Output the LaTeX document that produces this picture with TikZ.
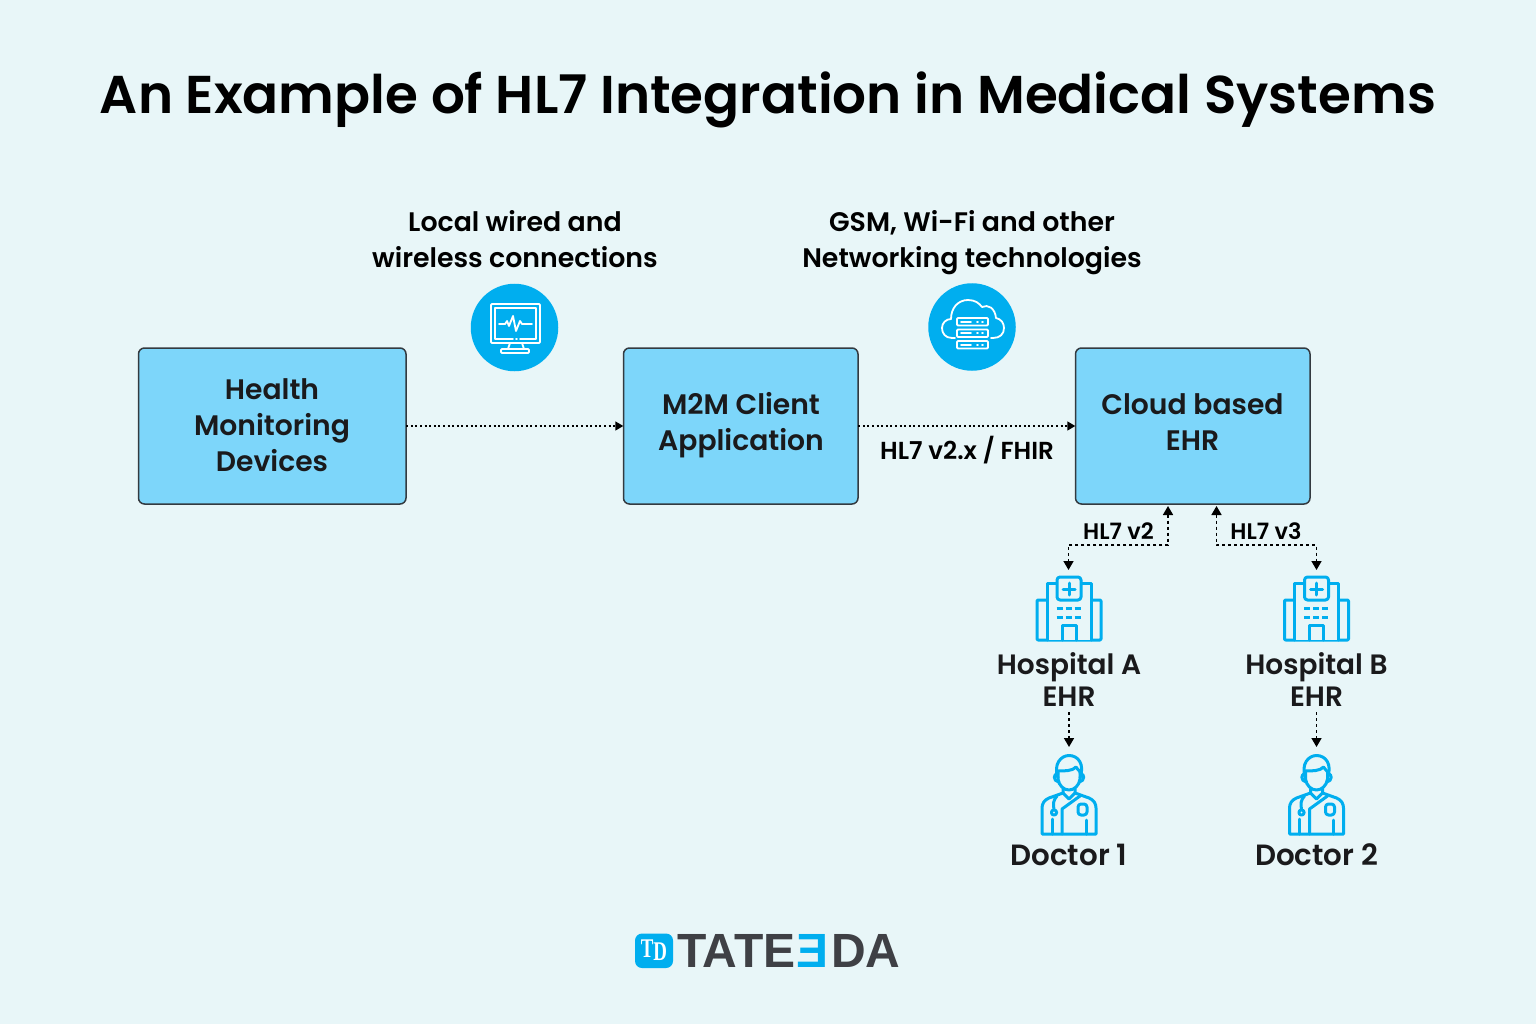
\documentclass[tikz,border=0pt]{standalone}
\usepackage{fontspec}
\setmainfont{Poppins SemiBold}
\newfontfamily\logofont{Liberation Sans Bold}
\newfontfamily\tdfont{Liberation Serif Bold}
\usetikzlibrary{arrows.meta}
\definecolor{bgc}{HTML}{E8F6F8}
\definecolor{boxc}{HTML}{7DD6FA}
\definecolor{edgec}{HTML}{333A40}
\definecolor{bluec}{HTML}{00AEEF}
\definecolor{inkc}{HTML}{1A1A1C}
\definecolor{logoc}{HTML}{3F4045}
\newcommand{\fsz}[1]{\fontsize{#1}{#1}\selectfont}
\tikzset{
  sysbox/.style={draw=edgec,line width=1.5pt,fill=boxc,rounded corners=6pt,inner sep=0pt},
  boxtxt/.style={text=inkc,align=center,font=\fsz{28.2}\setlength{\baselineskip}{36pt},inner sep=0pt},
  captxt/.style={text=black,align=center,font=\fsz{26.8}\setlength{\baselineskip}{36pt},inner sep=0pt},
  nametxt/.style={text=inkc,align=center,font=\fsz{28}\setlength{\baselineskip}{32pt},inner sep=0pt},
  doctxt/.style={text=inkc,font=\fsz{29.3},inner sep=0pt},
  linktxt/.style={text=black,font=\fsz{22.5},inner sep=0pt},
  widetxt/.style={text=black,font=\fsz{24.6},inner sep=0pt},
  flow/.style={draw=black,line width=1.4pt,dash pattern=on 2pt off 2.6pt,-{Triangle[length=8pt,width=9pt]}},
  flowboth/.style={draw=black,line width=1.6pt,dash pattern=on 3pt off 3pt,{Triangle[length=9pt,width=10pt]}-{Triangle[length=9pt,width=10pt]}},
  flowdown/.style={draw=black,line width=1.6pt,dash pattern=on 3pt off 3pt,-{Triangle[length=9pt,width=10pt]}},
  iconline/.style={draw=bluec,line width=3pt,line cap=round,line join=round,fill=none},
  whiteline/.style={draw=white,line width=1.8pt,line cap=round,line join=round,fill=none},
  badge/.style={circle,fill=bluec,minimum size=87.5pt,inner sep=0pt}
}
\newcommand{\hospitalicon}[1]{%
\begin{scope}[shift={(#1,0)}]
 \draw[iconline,rounded corners=1pt] (-32,600) rectangle (32,640);
 \draw[iconline,fill=bgc] (-22,640) -- (-22,583) -- (22,583) -- (22,640);
 \draw[iconline,fill=bgc,rounded corners=3pt] (-12,577) rectangle (12,600);
 \draw[iconline] (-6,589) -- (6,589) (0,583) -- (0,595);
 \draw[draw=bluec,line width=3pt,dash pattern=on 6pt off 3pt] (-12.5,608) -- (13,608) (-12.5,617) -- (13,617);
 \draw[iconline] (-7,640) -- (-7,625) -- (7,625) -- (7,640);
\end{scope}}
\newcommand{\doctoricon}[1]{%
\begin{scope}[shift={(#1,0)}]
 % hair and head
 \draw[iconline] (-11,778) .. controls (-16,764) and (-8,755.5) .. (0,755.5) .. controls (9,755.5) and (16,764) .. (11,778);
 \draw[iconline] (-11,771) .. controls (-5,771) and (4,771) .. (7,767) .. controls (9,770) and (11,771) .. (11,772);
 \draw[iconline] (-11,771) -- (-11,779) .. controls (-10,786) and (-5,790) .. (0,790) .. controls (5,790) and (10,786) .. (11,779) -- (11,772);
 \draw[iconline] (-11,774) .. controls (-16,773) and (-16,781) .. (-10.5,782);
 \draw[iconline] (11,774) .. controls (16,773) and (16,781) .. (10.5,782);
 % collar
 \draw[iconline] (-6,789) -- (-6,793) -- (0,799) -- (6,793) -- (6,789);
 % body
 \draw[iconline] (-6,793) -- (-20,798) .. controls (-25,800) and (-27,804) .. (-27,808) -- (-27,834) -- (27,834) -- (27,808) .. controls (27,804) and (25,800) .. (20,798) -- (6,793);
 % coat
 \draw[iconline] (-7,834) -- (-7,809) -- (11,796);
 \draw[iconline] (-17,834) -- (-17,819);
 \draw[iconline] (17,834) -- (17,820);
 % stethoscope
 \draw[iconline] (-12,796) .. controls (-16,800) and (-16,805) .. (-15,809);
 \draw[iconline] (-15,812.5) circle (2.6);
 \draw[iconline,rounded corners=3pt] (9,804) rectangle (18,815);
\end{scope}}
\begin{document}
\begin{tikzpicture}[x=1pt,y=-1pt]
\useasboundingbox (0,0) rectangle (1536,1024);
\fill[bgc] (0,0) rectangle (1536,1024);
\node[text=black,inner sep=0pt,font=\fsz{53.2}] (title) at (768,100) {An Example of HL7 Integration in Medical Systems};

\node[captxt] (cap1) at (515,239) {Local wired and\\wireless connections};
\node[captxt] (cap2) at (972,242.5) {GSM, Wi-Fi and other\\Networking technologies};

\node[badge] (mon) at (514.5,327.5) {};
\node[badge] (cld) at (972,327) {};

% monitor icon
\draw[whiteline,rounded corners=1pt] (491,304) rectangle (540,343);
\draw[whiteline] (495,339) -- (513,339) (516,339) -- (517,339) (520,339) -- (536,339) -- (536,308) -- (495,308) -- (495,339);
\draw[whiteline] (499,324) -- (505,324) -- (507,321) -- (509,326) -- (513,316) -- (516,331) -- (520,321) -- (522,324) -- (532,324);
\draw[whiteline] (510,343) -- (508,349) (522,343) -- (524,349);
\draw[whiteline,rounded corners=1pt] (501,349) rectangle (529,353);

% cloud icon
\draw[whiteline] (955,338) -- (952,338) .. controls (945,338) and (942,333) .. (942,328) .. controls (942,323) and (946,319) .. (951,319) .. controls (951,308) and (958,300) .. (968,300) .. controls (975,300) and (979,303) .. (982,307) .. controls (988,304) and (995,308) .. (996,318) .. controls (1001,319) and (1004,323) .. (1004,328) .. controls (1004,334) and (1000,338) .. (993,338) -- (991,338);
\foreach \yy in {318,329.5,341}{
  \draw[whiteline,rounded corners=1pt] (957,\yy) rectangle (988,\yy+7.5);
  \draw[whiteline] (961,\yy+3.75) -- (971,\yy+3.75);
  \draw[whiteline] (977,\yy+3.75) -- (978,\yy+3.75) (982,\yy+3.75) -- (983,\yy+3.75);
}

% boxes
\draw[sysbox] (138.5,348) rectangle (406,504);
\draw[sysbox] (623.5,348) rectangle (858,504);
\draw[sysbox] (1075.5,348) rectangle (1310,504);
\node[inner sep=0pt,minimum width=267.5pt,minimum height=156pt] (b1) at (272.25,426) {};
\node[inner sep=0pt,minimum width=234.5pt,minimum height=156pt] (b2) at (740.75,426) {};
\node[inner sep=0pt,minimum width=234.5pt,minimum height=156pt] (b3) at (1192.75,426) {};
\node[boxtxt] (t1) at (272,425) {Health\\Monitoring\\Devices};
\node[boxtxt] (t2) at (741,425) {M2M Client\\Application};
\node[boxtxt] (t3) at (1192.5,422) {Cloud based\\EHR};

\draw[flow] (b1.east) -- (b2.west);
\draw[flow] (b2.east) -- (b3.west);
\node[widetxt] (l0) at (967,450) {HL7 v2.x / FHIR};
\node[linktxt] (l1) at (1118.5,531) {HL7 v2};
\node[linktxt] (l2) at (1266,531) {HL7 v3};

% icons
\hospitalicon{1069}
\hospitalicon{1316.5}
\doctoricon{1069}
\doctoricon{1316.5}

\node[nametxt] (h1) at (1069,680) {Hospital A\\EHR};
\node[nametxt] (h2) at (1316.5,680) {Hospital B\\EHR};
\node[doctxt] (d1) at (1069,855) {Doctor 1};
\node[doctxt] (d2) at (1316.5,855) {Doctor 2};

\coordinate (hAtop) at (1068.5,570);
\coordinate (hBtop) at (1316.5,570);
\coordinate (upA) at (1168,506);
\coordinate (upB) at (1216.5,506);
\coordinate (jog) at (1192,545);
\coordinate (dAtop) at (1069,747);
\coordinate (dBtop) at (1316.5,747);
\draw[flowboth] (upA) -- (upA |- jog) -- (hAtop |- jog) -- (hAtop);
\draw[flowboth] (upB) -- (upB |- jog) -- (hBtop |- jog) -- (hBtop);
\draw[flowdown] ([yshift=-5pt]h1.south) -- (dAtop);
\draw[flowdown] ([yshift=-5pt]h2.south) -- (dBtop);

% logo
\fill[bluec,rounded corners=7pt] (635,933.5) rectangle (673,968);
\node[text=white,inner sep=0pt,font=\tdfont\fsz{27}] (ltd) at (654,950) {\scalebox{0.7}[1]{T\raisebox{-3pt}{D}}};
\node[text=logoc,anchor=west,inner sep=0pt,font=\logofont\fsz{48}] (lg1) at (677,951) {TATE};
\node[text=bluec,anchor=west,inner sep=0pt,font=\logofont\fsz{48}] (lg2) at (796,951) {\symbol{"018E}};
\node[text=logoc,anchor=west,inner sep=0pt,font=\logofont\fsz{48}] (lg3) at (831,951) {DA};
\end{tikzpicture}
\end{document}
